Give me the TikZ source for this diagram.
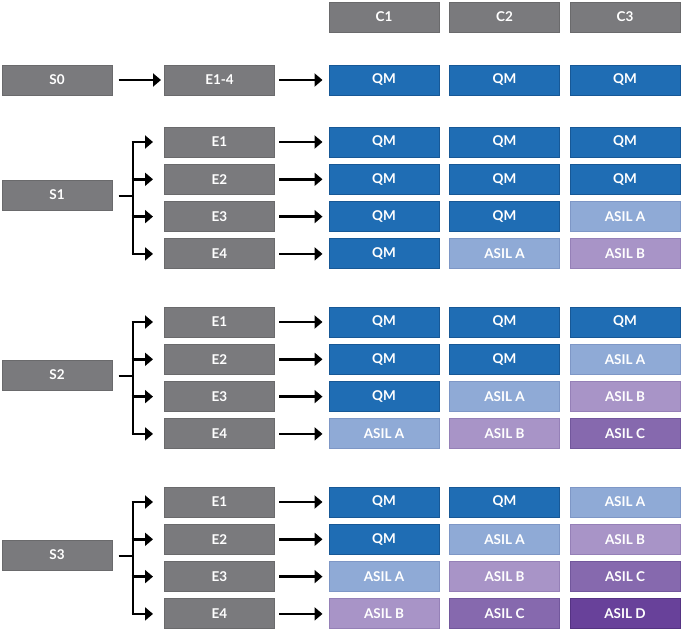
\documentclass[tikz,border=0pt]{standalone}
\usepackage{fontspec}
\setmainfont{Lato}
\usetikzlibrary{arrows.meta,calc}
\definecolor{greyF}{HTML}{7A7A7D}
\definecolor{greyD}{HTML}{6A6A6C}
\definecolor{qmF}{HTML}{1F6DB4}
\definecolor{qmD}{HTML}{175896}
\definecolor{aF}{HTML}{8FAAD6}
\definecolor{aD}{HTML}{7E97C6}
\definecolor{bF}{HTML}{A894C7}
\definecolor{bD}{HTML}{9580B7}
\definecolor{cF}{HTML}{8669AE}
\definecolor{cD}{HTML}{72579C}
\definecolor{dF}{HTML}{68419A}
\definecolor{dD}{HTML}{553383}
\tikzset{
  box/.style={rectangle, minimum width=110pt, minimum height=30pt, inner sep=0pt,
    line width=1pt, text=white, font=\fontsize{13.5}{15}\selectfont\bfseries},
  gbox/.style={box, fill=greyF, draw=greyD},
  qm/.style={box, fill=qmF, draw=qmD},
  asa/.style={box, fill=aF, draw=aD},
  asb/.style={box, fill=bF, draw=bD},
  asc/.style={box, fill=cF, draw=cD},
  asd/.style={box, fill=dF, draw=dD},
  conn/.style={line width=2.8pt, black},
  arr/.style={conn, -{Triangle[length=8pt,width=13pt]}},
}
\begin{document}
\begin{tikzpicture}[x=1pt,y=-1pt]
\useasboundingbox (0,0) rectangle (682,633);
% header
\node[gbox] (C1) at (384,17) {C1};
\node[gbox] (C2) at (504.5,17) {C2};
\node[gbox] (C3) at (625,17) {C3};
% S0 row
\node[gbox] (S0) at (57,80) {S0};
\node[gbox] (E0) at (219.5,80) {E1-4};
\node[qm] (R0a) at (384,80) {QM};
\node[qm] (R0b) at (504.5,80) {QM};
\node[qm] (R0c) at (625,80) {QM};
\draw[arr] ([xshift=6pt]S0.east) -- ([xshift=-3pt]E0.west);
\draw[arr] ([xshift=4pt]E0.east) -- ([xshift=-6pt]R0a.west);
% groups
\foreach \g/\y/\sty in {1/142/{{qm/QM},{qm/QM},{qm/QM},{qm/QM},{qm/QM},{qm/QM},{qm/QM},{qm/QM},{asa/ASIL A},{qm/QM},{asa/ASIL A},{asb/ASIL B}},
                        2/322/{{qm/QM},{qm/QM},{qm/QM},{qm/QM},{qm/QM},{asa/ASIL A},{qm/QM},{asa/ASIL A},{asb/ASIL B},{asa/ASIL A},{asb/ASIL B},{asc/ASIL C}},
                        3/502/{{qm/QM},{qm/QM},{asa/ASIL A},{qm/QM},{asa/ASIL A},{asb/ASIL B},{asa/ASIL A},{asb/ASIL B},{asc/ASIL C},{asb/ASIL B},{asc/ASIL C},{asd/ASIL D}}}{
  \node[gbox] (S\g) at (57,\y+53) {S\g};
  \coordinate (B\g) at (133,\y+54);
  \draw[conn] ([xshift=6pt]S\g.east |- B\g) -- (B\g);
  \foreach \r in {1,...,4}{
    \node[gbox] (E\g\r) at (219.5,{\y+(\r-1)*37.3}) {E\r};
  }
  \draw[conn] (B\g |- E\g1) -- (B\g |- E\g4);
  \foreach \r in {1,...,4}{
    \draw[arr] ([xshift=-1.4pt]B\g |- E\g\r) -- ([xshift=-11pt]E\g\r.west);
  }
  \foreach [count=\i from 0] \s/\t in \sty {
    \pgfmathtruncatemacro{\row}{int(\i/3)+1}
    \pgfmathtruncatemacro{\col}{mod(\i,3)}
    \pgfmathsetmacro{\xx}{384+\col*120.5}
    \node[\s] (R\g\row\col) at (\xx,{\y+(\row-1)*37.3}) {\t};
  }
  \foreach \r in {1,...,4}{
    \draw[arr] ([xshift=4pt]E\g\r.east) -- ([xshift=-6pt]R\g\r0.west);
  }
}
\end{tikzpicture}
\end{document}
